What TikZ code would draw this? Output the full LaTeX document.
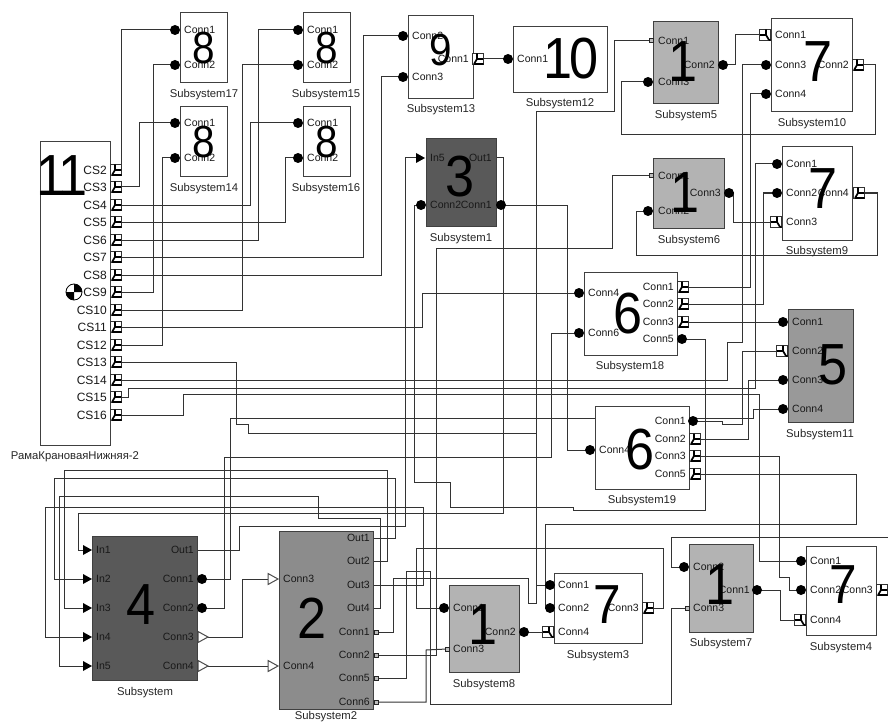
\documentclass[tikz,border=0pt]{standalone}
\usepackage{fontspec}
\setmainfont{Liberation Sans}
\usetikzlibrary{backgrounds}
\definecolor{wirec}{HTML}{333333}
\definecolor{fdark}{HTML}{595959}
\definecolor{fmid}{HTML}{8C8C8C}
\definecolor{fmed}{HTML}{999999}
\definecolor{flight}{HTML}{B3B3B3}
\tikzset{
  wire/.style={draw=wirec,line width=1pt,line join=miter},
  sbox/.style={draw=black!75,line width=0.9pt,inner sep=0pt,outer sep=0pt},
  caplabel/.style={font=\fontsize{11.3}{12}\selectfont,text=black!85,inner sep=0pt,yshift=-1.5pt},
  plabel/.style={font=\fontsize{10.5}{12}\selectfont,text=black!90,inner sep=0pt},
  cslabel/.style={font=\fontsize{12}{13}\selectfont,text=black!90,inner sep=0pt},
  pcirc/.pic={\fill[black] (0,0) circle (5);},
  psqr/.pic={\draw[black!80,fill=white,line width=1pt] (-5.5,-5.5) rectangle (5.5,5.5);
     \draw[black,line width=1.7pt] (-4,5) -- (-1,0) -- (5,0) (-1,0) -- (-1,-5.5) (-4,5) -- (5.5,5);},
  psql/.pic={\draw[black!80,fill=white,line width=1pt] (-5.5,-5.5) rectangle (5.5,5.5);
     \draw[black,line width=1.7pt] (4,5) -- (1,0) -- (-5,0) (1,0) -- (1,-5.5) (4,5) -- (5.5,5);},
  psm/.pic={\draw[black!85,fill=black!25,line width=1pt] (-2,-2) rectangle (2,2);},
  ptri/.pic={\fill[black] (0,-5) -- (9,0) -- (0,5) -- cycle;},
  potri/.pic={\draw[black!70,fill=white,line width=1pt] (0,-5.5) -- (10,0) -- (0,5.5) -- cycle;},
}
\newcommand\subsys[9]{% name x1 y1 x2 y2 fill caption capx capy
  \pgfmathsetmacro\bw{#4-#2}\pgfmathsetmacro\bh{#5-#3}
  \node[sbox,fill=#6,minimum width=\bw pt,minimum height=\bh pt] (#1) at ({(#2+#4)/2},{(#3+#5)/2}) {};
  \node[caplabel] (#1cap) at (#8,#9) {#7};}
\newcommand\port[7]{% type name x y label side lx
  \coordinate (#2) at (#3,#4);
  \pic at (#2) {#1};
  \node[plabel,anchor=#6] (#2L) at (#7,#4) {#5};}
\newcommand\csport[3]{% name y label
  \coordinate (#1) at (116,#2);
  \pic at (#1) {psqr};
  \node[cslabel,anchor=east] (#1L) at (107,#2) {#3};}
\newcommand\digit[5]{% name x y text size
  \node[inner sep=0pt,xscale=.9,font=\fontsize{#5}{#5}\selectfont] (#1) at (#2,#3) {#4};}
\begin{document}
\begin{tikzpicture}[x=1pt,y=-1pt]
\useasboundingbox (0,0) rectangle (888,722);
% ---- subsystems
\subsys{rama}{40}{141}{110}{445}{white}{РамаКрановаяНижняя-2}{75}{455}
\csport{cs2}{170}{CS2}\csport{cs3}{187}{CS3}\csport{cs4}{205}{CS4}\csport{cs5}{222}{CS5}
\csport{cs6}{240}{CS6}\csport{cs7}{257}{CS7}\csport{cs8}{275}{CS8}\csport{cs9}{292}{CS9}
\csport{cs10}{310}{CS10}\csport{cs11}{327}{CS11}\csport{cs12}{345}{CS12}\csport{cs13}{362}{CS13}
\csport{cs14}{380}{CS14}\csport{cs15}{397}{CS15}\csport{cs16}{415}{CS16}
\coordinate (com) at (74,292);
\draw[black,fill=white,line width=0.8pt] (com) circle (8);
\fill[black] (com) -- (66,292) arc[start angle=180,end angle=90,radius=8,y=1pt] -- cycle;
\fill[black] (com) -- (82,292) arc[start angle=0,end angle=-90,radius=8,y=1pt] -- cycle;
\digit{ramanum}{62}{176}{1\kern-7pt 1}{58}

\subsys{sA}{180}{12}{227}{82}{white}{Subsystem17}{204}{93}
\port{pcirc}{s17c1}{175}{30}{Conn1}{west}{184}
\port{pcirc}{s17c2}{175}{65}{Conn2}{west}{184}
\digit{sAnum}{204}{48}{8}{45}
\subsys{sB}{180}{106}{227}{176}{white}{Subsystem14}{204}{187}
\port{pcirc}{s14c1}{175}{123}{Conn1}{west}{184}
\port{pcirc}{s14c2}{175}{158}{Conn2}{west}{184}
\digit{sBnum}{204}{142}{8}{45}
\subsys{sC}{303}{12}{350}{82}{white}{Subsystem15}{326}{93}
\port{pcirc}{s15c1}{298}{30}{Conn1}{west}{307}
\port{pcirc}{s15c2}{298}{65}{Conn2}{west}{307}
\digit{sCnum}{327}{48}{8}{45}
\subsys{sD}{303}{106}{350}{176}{white}{Subsystem16}{326}{187}
\port{pcirc}{s16c1}{298}{123}{Conn1}{west}{307}
\port{pcirc}{s16c2}{298}{158}{Conn2}{west}{307}
\digit{sDnum}{327}{142}{8}{45}
\subsys{sE}{408}{15}{473}{98}{white}{Subsystem13}{441}{108}
\port{pcirc}{s13c2}{403}{36}{Conn2}{west}{412}
\port{pcirc}{s13c3}{403}{77}{Conn3}{west}{412}
\port{psqr}{s13c1}{478}{59}{Conn1}{east}{469}
\digit{sEnum}{441}{50}{9}{45}
\subsys{sF}{513}{26}{607}{92}{white}{Subsystem12}{560}{102}
\port{pcirc}{s12c1}{508}{59}{Conn1}{west}{517}
\digit{sFnum}{571}{59}{1\kern-3pt 0}{58}
\subsys{sG}{653}{21}{718}{103}{flight}{Subsystem5}{686}{114}
\port{psm}{s5c1}{651}{41}{Conn1}{west}{658}
\port{pcirc}{s5c3}{648}{82}{Conn3}{west}{658}
\port{pcirc}{s5c2}{723}{65}{Conn2}{east}{715}
\digit{sGnum}{683}{62}{1}{58}
\subsys{sH}{771}{18}{852}{111}{white}{Subsystem10}{812}{122}
\port{psql}{s10c1}{765}{35}{Conn1}{west}{775}
\port{pcirc}{s10c3}{766}{65}{Conn3}{west}{775}
\port{pcirc}{s10c4}{766}{94}{Conn4}{west}{775}
\port{psqr}{s10c2}{858}{65}{Conn2}{east}{849}
\digit{sHnum}{818}{62}{7}{58}
\subsys{sI}{426}{138}{496}{226}{fdark}{Subsystem1}{461}{237}
\port{ptri}{s1in}{416}{158}{In5}{west}{430}
\port{pcirc}{s1c2}{421}{205}{Conn2}{west}{430}
\node[plabel,anchor=east] (s1outL) at (492,158) {Out1};
\coordinate (s1out) at (496,158);
\port{pcirc}{s1c1}{501}{205}{Conn1}{east}{492}
\digit{sInum}{460}{177}{3}{58}
\subsys{sJ}{653}{158}{724}{228}{flight}{Subsystem6}{689}{239}
\port{psm}{s6c1}{651}{176}{Conn1}{west}{658}
\port{pcirc}{s6c2}{648}{211}{Conn2}{west}{658}
\port{pcirc}{s6c3}{729}{193}{Conn3}{east}{721}
\digit{sJnum}{685}{193}{1}{58}
\subsys{sK}{782}{146}{852}{240}{white}{Subsystem9}{817}{250}
\port{pcirc}{s9c1}{777}{164}{Conn1}{west}{786}
\port{pcirc}{s9c2}{777}{193}{Conn2}{west}{786}
\port{psql}{s9c3}{776}{222}{Conn3}{west}{786}
\port{psqr}{s9c4}{859}{193}{Conn4}{east}{849}
\digit{sKnum}{823}{189}{7}{58}
\subsys{sL}{584}{272}{677}{355}{white}{Subsystem18}{630}{365}
\port{pcirc}{s18c4}{579}{293}{Conn4}{west}{588}
\port{pcirc}{s18c6}{579}{333}{Conn6}{west}{588}
\port{psqr}{s18c1}{683}{287}{Conn1}{east}{674}
\port{psqr}{s18c2}{683}{304}{Conn2}{east}{674}
\port{psqr}{s18c3}{683}{322}{Conn3}{east}{674}
\port{pcirc}{s18c5}{682}{339}{Conn5}{east}{674}
\digit{sLnum}{628}{314}{6}{58}
\subsys{sM}{788}{309}{853}{422}{fmed}{Subsystem11}{820}{433}
\port{pcirc}{s11c1}{783}{322}{Conn1}{west}{792}
\port{psql}{s11c2}{782}{351}{Conn2}{west}{792}
\port{pcirc}{s11c3}{783}{380}{Conn3}{west}{792}
\port{pcirc}{s11c4}{783}{409}{Conn4}{west}{792}
\digit{sMnum}{833}{365}{5}{58}
\subsys{sN}{595}{406}{689}{489}{white}{Subsystem19}{642}{499}
\port{pcirc}{s19c4}{590}{450}{Conn4}{west}{599}
\port{pcirc}{s19c1}{693}{421}{Conn1}{east}{686}
\port{psqr}{s19c2}{695}{439}{Conn2}{east}{686}
\port{psqr}{s19c3}{695}{456}{Conn3}{east}{686}
\port{psqr}{s19c5}{695}{474}{Conn5}{east}{686}
\digit{sNnum}{640}{450}{6}{58}
\subsys{sO}{92}{536}{197}{680}{fdark}{Subsystem}{145}{691}
\port{ptri}{sin1}{83}{550}{In1}{west}{96}
\port{ptri}{sin2}{83}{579}{In2}{west}{96}
\port{ptri}{sin3}{83}{608}{In3}{west}{96}
\port{ptri}{sin4}{83}{637}{In4}{west}{96}
\port{ptri}{sin5}{83}{666}{In5}{west}{96}
\node[plabel,anchor=east] (soutL) at (194,550) {Out1};
\coordinate (sout) at (197,550);
\port{pcirc}{sc1}{202}{579}{Conn1}{east}{194}
\port{pcirc}{sc2}{202}{608}{Conn2}{east}{194}
\port{potri}{sc3}{198}{637}{Conn3}{east}{194}
\port{potri}{sc4}{198}{666}{Conn4}{east}{194}
\digit{sOnum}{141}{605}{4}{58}
\subsys{sP}{279}{531}{373}{709}{fmid}{Subsystem2}{326}{715.5}
\port{potri}{s2c3}{268}{579}{Conn3}{west}{283}
\port{potri}{s2c4}{268}{666}{Conn4}{west}{283}
\node[plabel,anchor=east] (s2o1L) at (370,538) {Out1};
\node[plabel,anchor=east] (s2o2L) at (370,561) {Out2};
\node[plabel,anchor=east] (s2o3L) at (370,585) {Out3};
\node[plabel,anchor=east] (s2o4L) at (370,608) {Out4};
\coordinate (s2o1) at (373,538);\coordinate (s2o2) at (373,561);
\coordinate (s2o3) at (373,585);\coordinate (s2o4) at (373,608);
\port{psm}{s2c1}{376}{632}{Conn1}{east}{370}
\port{psm}{s2c2}{376}{655}{Conn2}{east}{370}
\port{psm}{s2c5}{376}{678}{Conn5}{east}{370}
\port{psm}{s2c6}{376}{702}{Conn6}{east}{370}
\digit{sPnum}{312}{618}{2}{58}
\subsys{sQ}{449}{585}{519}{672}{flight}{Subsystem8}{484}{683}
\port{pcirc}{s8c1}{444}{608}{Conn1}{west}{453}
\port{psm}{s8c3}{447}{649}{Conn3}{west}{453}
\port{pcirc}{s8c2}{524}{632}{Conn2}{east}{516}
\digit{sQnum}{483}{625}{1}{58}
\subsys{sR}{554}{573}{642}{643}{white}{Subsystem3}{598}{654}
\port{pcirc}{s3c1}{550}{585}{Conn1}{west}{558}
\port{pcirc}{s3c2}{550}{608}{Conn2}{west}{558}
\port{psql}{s3c4}{548}{632}{Conn4}{west}{558}
\port{psqr}{s3c3}{648}{608}{Conn3}{east}{639}
\digit{sRnum}{607}{605}{7}{55}
\subsys{sS}{689}{544}{753}{632}{flight}{Subsystem7}{721}{642}
\port{pcirc}{s7c2}{684}{567}{Conn2}{west}{693}
\port{psm}{s7c3}{687}{608}{Conn3}{west}{693}
\port{pcirc}{s7c1}{757}{590}{Conn1}{east}{750}
\digit{sSnum}{720}{585}{1}{58}
\subsys{sT}{806}{546}{876}{635}{white}{Subsystem4}{841}{646}
\port{pcirc}{s4c1}{801}{561}{Conn1}{west}{810}
\port{pcirc}{s4c2}{801}{590}{Conn2}{west}{810}
\port{psql}{s4c4}{800}{620}{Conn4}{west}{810}
\port{psqr}{s4c3}{882}{590}{Conn3}{east}{873}
\digit{sTnum}{843}{585}{7}{55}
\coordinate (offright) at (888,537);
% ---- connectors, beneath the blocks
\begin{scope}[on background layer]
\fill[white] (0,0) rectangle (888,722);
\draw[wire] (cs2) -- (121,170) -- (121,30) -- (s17c1);
\draw[wire] (cs3) -- (139,187) -- (139,123) -- (s14c1);
\draw[wire] (cs4) -- (250,205) -- (250,123) -- (s16c1);
\draw[wire] (cs5) -- (285,222) -- (285,158) -- (s16c2);
\draw[wire] (cs6) -- (258,240) -- (258,30) -- (s15c1);
\draw[wire] (cs7) -- (363,257) -- (363,36) -- (s13c2);
\draw[wire] (cs8) -- (381,275) -- (381,77) -- (s13c3);
\draw[wire] (cs9) -- (153,292) -- (153,65) -- (s17c2);
\draw[wire] (cs10) -- (242,310) -- (242,65) -- (s15c2);
\draw[wire] (cs11) -- (422,327) -- (422,293) -- (s18c4);
\draw[wire] (cs12) -- (162,345) -- (162,158) -- (s14c2);
\draw[wire] (cs13) -- (236,362) -- (236,424) -- (248,424) -- (248,433) -- (536,433) -- (536,585) -- (s3c1);
\draw[wire] (cs14) -- (727,380) -- (727,342) -- (742,342) -- (742,65) -- (s10c3);
\draw[wire] (cs15) -- (128,397) -- (128,388) -- (755,388) -- (755,164) -- (s9c1);
\draw[wire] (cs16) -- (183,415) -- (183,394) -- (759,394) -- (759,561) -- (s4c1);
\draw[wire] (s2c1) -- (393,632) -- (393,578) -- (528,578) -- (528,603) -- (536,603) -- (536,112) -- (614,112) -- (614,41) -- (s5c1);
\draw[wire] (sc1) -- (230,579) -- (230,418) -- (753,418) -- (753,409) -- (s11c4);
\draw[wire] (sc2) -- (224,608) -- (224,457) -- (551,457) -- (551,333) -- (s18c6);
\draw[wire] (s2o2) -- (387,561) -- (387,470) -- (64,470) -- (64,608) -- (sin3);
\draw[wire] (s2o1) -- (395,538) -- (395,478) -- (54,478) -- (54,579) -- (sin2);
\draw[wire] (sout) -- (239,550) -- (239,526) -- (405,526) -- (405,158) -- (s1in);
\draw[wire] (s1c2) -- (414,205) -- (414,482) -- (450,482) -- (450,507) -- (573,507) -- (573,510) -- (705,510) -- (705,339) -- (s18c5);
\draw[wire] (s1out) -- (503,158) -- (503,513) -- (78,513) -- (78,550) -- (sin1);
\draw[wire] (s2o3) -- (423,585) -- (423,507) -- (45,507) -- (45,637) -- (sin4);
\draw[wire] (s2o4) -- (380,608) -- (380,518) -- (318,518) -- (318,496) -- (59,496) -- (59,666) -- (sin5);
\draw[wire] (sc3) -- (242,637) -- (242,579) -- (s2c3);
\draw[wire] (sc4) -- (s2c4);
\draw[wire] (s2c5) -- (406,678) -- (406,571) -- (430,571) -- (430,704) -- (671,704) -- (671,608) -- (s7c3);
\draw[wire] (s2c6) -- (426,702) -- (426,650) -- (s8c3);
\draw[wire] (s2c2) -- (436,655) -- (436,248) -- (612,248) -- (612,176) -- (s6c1);
\draw[wire] (s8c1) -- (416,608) -- (416,548) -- (663,548) -- (663,608) -- (s3c3);
\draw[wire] (s8c2) -- (s3c4);
\draw[wire] (s3c2) -- (545,608) -- (545,524) -- (856,524) -- (856,474) -- (s19c5);
\draw[wire] (s19c3) -- (779,456) -- (779,577) -- (789,577) -- (789,590) -- (s4c2);
\draw[wire] (s19c2) -- (748,439) -- (748,380) -- (s11c3);
\draw[wire] (s19c1) -- (722,421) -- (722,424) -- (742,424) -- (742,351) -- (s11c2);
\draw[wire] (s18c3) -- (s11c1);
\draw[wire] (s18c1) -- (750,287) -- (750,94) -- (s10c4);
\draw[wire] (s18c2) -- (763,304) -- (763,193) -- (s9c2);
\draw[wire] (s19c4) -- (567,450) -- (567,205) -- (s1c1);
\draw[wire] (s13c1) -- (s12c1);
\draw[wire] (s5c2) -- (735,65) -- (735,35) -- (s10c1);
\draw[wire] (s5c3) -- (621,82) -- (621,135) -- (875,135) -- (875,65) -- (s10c2);
\draw[wire] (s6c3) -- (733,193) -- (733,222) -- (s9c3);
\draw[wire] (s6c2) -- (636,211) -- (636,255) -- (877,255) -- (877,193) -- (s9c4);
\draw[wire] (s7c1) -- (780,590) -- (780,620) -- (s4c4);
\draw[wire] (s7c2) -- (671,567) -- (671,537) -- (offright);
\end{scope}
\end{tikzpicture}
\end{document}
